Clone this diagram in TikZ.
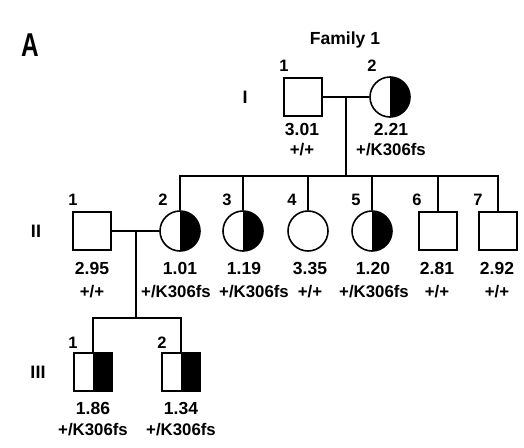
\documentclass[tikz,border=0pt]{standalone}
\usepackage{fontspec}
\setmainfont{Liberation Sans}
\usepackage{tikz}

\tikzset{
  male/.style={draw, rectangle, minimum size=38pt, inner sep=0pt},
  female/.style={draw, circle, minimum size=40pt, inner sep=0pt},
  carrier/.style={path picture={\fill[black] (path picture bounding box.north) rectangle (path picture bounding box.south east);}},
  idlab/.style={font=\fontsize{16.5}{16.5}\selectfont\bfseries, inner sep=0pt},
  val/.style={font=\fontsize{17.5}{17.5}\selectfont\bfseries, inner sep=0pt},
  geno/.style={font=\fontsize{16.8}{16.8}\selectfont\bfseries, inner sep=0pt},
  gen/.style={font=\fontsize{18}{18}\selectfont\bfseries, inner sep=0pt}
}

\begin{document}
\begin{tikzpicture}[x=1pt, y=-1pt, line width=1.6pt]
\useasboundingbox (0,0) rectangle (524,447);

\node[font=\fontsize{33}{33}\selectfont\bfseries, xscale=0.74, inner sep=0pt] (panel) at (30,45) {A};
\node[font=\fontsize{17.5}{17.5}\selectfont\bfseries, inner sep=0pt] (title) at (345,40) {Family 1};

%%% generation I
\node[gen] (genI) at (245,97) {I};
\node[male] (I1) at (303,97) {};
\node[female, carrier] (I2) at (390,97) {};
\node[idlab] (I1id) at (284,66) {1};
\node[idlab] (I2id) at (372,66) {2};
\node[val] (I1v) at (302,129) {3.01};
\node[geno] (I1g) at (302,150) {+/+};
\node[val] (I2v) at (391,129) {2.21};
\node[geno] (I2g) at (391,150) {+/K306fs};

\coordinate (mI) at (346,97);
\coordinate (sI) at (346,176);
\draw (I1.east) -- (I2.west);
\draw (mI) -- (sI);

%%% generation II
\node[gen] (genII) at (36,231) {II};
\node[male] (II1) at (92,231) {};
\node[female, carrier] (II2) at (180,231) {};
\node[female, carrier] (II3) at (243,231) {};
\node[female] (II4) at (308,231) {};
\node[female, carrier] (II5) at (372,231) {};
\node[male] (II6) at (438,231) {};
\node[male] (II7) at (498,231) {};

\node[idlab] (II1id) at (73,200) {1};
\node[idlab] (II2id) at (163,200) {2};
\node[idlab] (II3id) at (227,200) {3};
\node[idlab] (II4id) at (292,200) {4};
\node[idlab] (II5id) at (356,200) {5};
\node[idlab] (II6id) at (417,200) {6};
\node[idlab] (II7id) at (478,200) {7};

\node[val] (II1v) at (92,268) {2.95};
\node[val] (II2v) at (180,268) {1.01};
\node[val] (II3v) at (244,268) {1.19};
\node[val] (II4v) at (310,268) {3.35};
\node[val] (II5v) at (373,268) {1.20};
\node[val] (II6v) at (437,268) {2.81};
\node[val] (II7v) at (497,268) {2.92};

\node[geno] (II1g) at (92,292) {+/+};
\node[geno] (II2g) at (176,292) {+/K306fs};
\node[geno] (II3g) at (254,292) {+/K306fs};
\node[geno] (II4g) at (310,292) {+/+};
\node[geno] (II5g) at (374,292) {+/K306fs};
\node[geno] (II6g) at (437,292) {+/+};
\node[geno] (II7g) at (497,292) {+/+};

\draw (II2.north) -- (II2.north |- sI) -- (II7.north |- sI) -- (II7.north);
\draw (II3.north) -- (II3.north |- sI);
\draw (II4.north) -- (II4.north |- sI);
\draw (II5.north) -- (II5.north |- sI);
\draw (II6.north) -- (II6.north |- sI);

\coordinate (mII) at (136,231);
\coordinate (sII) at (136,318);
\draw (II1.east) -- (II2.west);
\draw (mII) -- (sII);

%%% generation III
\node[gen] (genIII) at (38,372) {III};
\node[male, carrier] (III1) at (93,372) {};
\node[male, carrier] (III2) at (181,372) {};
\node[idlab] (III1id) at (73,343) {1};
\node[idlab] (III2id) at (162,343) {2};
\node[val] (III1v) at (93,408) {1.86};
\node[val] (III2v) at (181,408) {1.34};
\node[geno] (III1g) at (93,430) {+/K306fs};
\node[geno] (III2g) at (181,430) {+/K306fs};

\draw (III1.north) -- (III1.north |- sII) -- (III2.north |- sII) -- (III2.north);
\end{tikzpicture}
\end{document}
